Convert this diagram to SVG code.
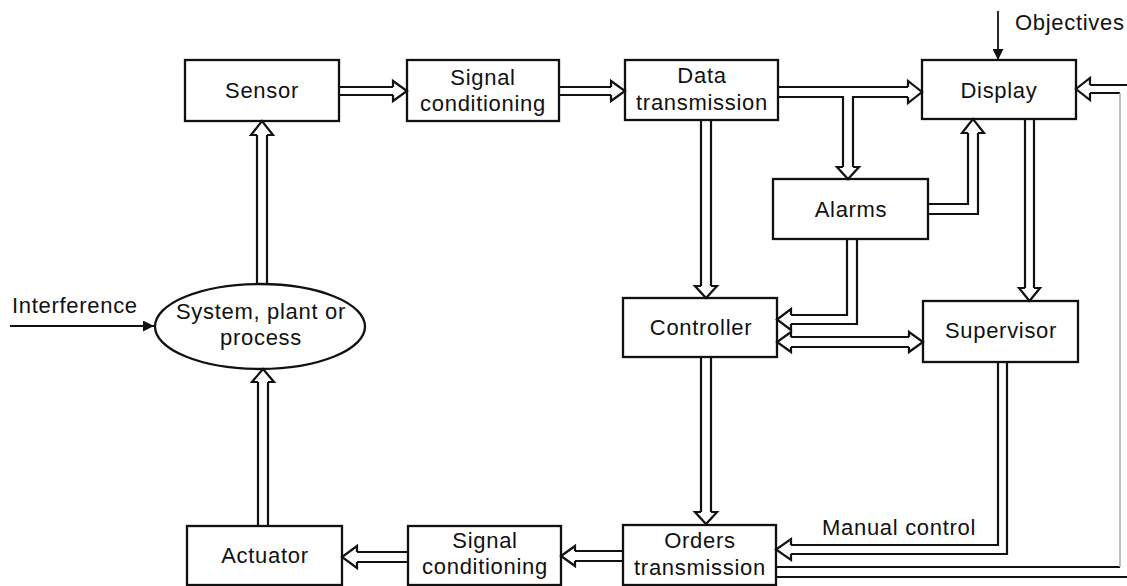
<svg xmlns="http://www.w3.org/2000/svg" width="1127" height="586" viewBox="0 0 1127 586">
<defs>
<style>
.box{fill:#fff;stroke:#111;stroke-width:2.3}
.ln{fill:none;stroke:#111;stroke-width:2.2;stroke-linejoin:miter}
.hd{fill:#fff;stroke:#111;stroke-width:2.2;stroke-linejoin:miter}
.faint{fill:none;stroke:#aaa;stroke-width:1.5}
text{font-family:"Liberation Sans",Arial,sans-serif;font-size:22px;letter-spacing:0.7px;text-anchor:middle;fill:#111}
.lbl{text-anchor:start}
</style>
<marker id="fa" viewBox="0 0 10 10" refX="10" refY="5" markerWidth="13" markerHeight="11" markerUnits="userSpaceOnUse" orient="auto">
<path d="M0,0 L10,5 L0,10 Z" fill="#111"/>
</marker>
</defs>
<rect width="1127" height="586" fill="#fff"/>

<g id="sensor"><rect class="box" x="185" y="60" width="154" height="61"/><text x="262" y="98">Sensor</text></g>
<g id="signal-conditioning-top"><rect class="box" x="407" y="60" width="152" height="61"/><text x="483" y="85">Signal</text><text x="483" y="111">conditioning</text></g>
<g id="data-transmission"><rect class="box" x="625" y="60" width="153" height="60"/><text x="702" y="83">Data</text><text x="702" y="110">transmission</text></g>
<g id="display"><rect class="box" x="922" y="60" width="154" height="59"/><text x="999" y="98">Display</text></g>
<g id="alarms"><rect class="box" x="773" y="179" width="155" height="60"/><text x="851" y="217">Alarms</text></g>
<g id="controller"><rect class="box" x="623" y="298" width="154" height="59"/><text x="701" y="335">Controller</text></g>
<g id="supervisor"><rect class="box" x="923" y="301" width="155" height="61"/><text x="1001" y="338">Supervisor</text></g>
<g id="system"><ellipse class="box" cx="260" cy="326.5" rx="105" ry="42.5"/><text x="261" y="319">System, plant or</text><text x="261" y="345">process</text></g>
<g id="actuator"><rect class="box" x="187" y="526" width="155" height="59"/><text x="265" y="563">Actuator</text></g>
<g id="signal-conditioning-bottom"><rect class="box" x="408" y="526" width="153" height="59"/><text x="485" y="548">Signal</text><text x="485" y="574">conditioning</text></g>
<g id="orders-transmission"><rect class="box" x="623" y="525" width="153" height="60"/><text x="700" y="548">Orders</text><text x="700" y="575">transmission</text></g>

<g id="connectors">
<!-- Sensor -> Signal conditioning -->
<path class="ln" d="M339,87 H393 M339,95 H393"/>
<path class="hd" d="M393,87 V81 L407,91 L393,101 V95"/>
<!-- Signal conditioning -> Data transmission -->
<path class="ln" d="M559,87 H611 M559,95 H611"/>
<path class="hd" d="M611,87 V81 L625,91 L611,101 V95"/>
<!-- Data transmission -> Display, branch -> Alarms -->
<path class="ln" d="M778,87 H908 M778,97 H843 V167 M908,97 H853 V167"/>
<path class="hd" d="M908,87 V81 L922,92 L908,103 V97"/>
<path class="hd" d="M843,167 H837 L848,179 L859,167 H853"/>
<!-- Orders transmission -> Display (feedback round the right edge) -->
<path class="ln" d="M1090,85 H1130 M776,577 H1130"/>
<path class="ln" d="M776,567 H1120 M1090,93 H1120"/>
<path class="faint" d="M1120,93 V567"/>
<path class="hd" d="M1090,85 V78 L1076,89 L1090,100 V93"/>
<!-- Alarms -> Display -->
<path class="ln" d="M928,204 H968 V133 M928,214 H978 V133"/>
<path class="hd" d="M968,133 H962 L973,119 L984,133 H978"/>
<!-- Display -> Supervisor -->
<path class="ln" d="M1025,119 V288 M1034,119 V288"/>
<path class="hd" d="M1025,288 H1019 L1029.5,301 L1040,288 H1034"/>
<!-- Data transmission -> Controller -->
<path class="ln" d="M701,120 V286 M711,120 V286"/>
<path class="hd" d="M701,286 H695 L706,298 L717,286 H711"/>
<!-- Alarms -> Controller -->
<path class="ln" d="M847,239 V315 H791 M857,239 V324 H791"/>
<path class="hd" d="M791,315 V309 L777,319.5 L791,330 V324"/>
<!-- Controller <-> Supervisor -->
<path class="ln" d="M791,337 H909 M791,347 H909"/>
<path class="hd" d="M791,337 V332 L777,342 L791,352 V347"/>
<path class="hd" d="M909,337 V332 L923,342 L909,352 V347"/>
<!-- Controller -> Orders transmission -->
<path class="ln" d="M701,357 V512 M711,357 V512"/>
<path class="hd" d="M701,512 H695 L706,524 L717,512 H711"/>
<!-- Supervisor -> Orders transmission (manual control) -->
<path class="ln" d="M998,362 V545 H791 M1007,362 V554 H791"/>
<path class="hd" d="M791,545 V539 L776,549.5 L791,560 V554"/>
<text class="lbl" x="822" y="535">Manual control</text>
<!-- Orders transmission -> Signal conditioning -->
<path class="ln" d="M623,551 H575 M623,561 H575"/>
<path class="hd" d="M575,551 V546 L561,556 L575,566 V561"/>
<!-- Signal conditioning -> Actuator -->
<path class="ln" d="M408,552 H357 M408,562 H357"/>
<path class="hd" d="M357,552 V546 L342,557 L357,568 V562"/>
<!-- Actuator -> System -->
<path class="ln" d="M258,526 V382 M268,526 V382"/>
<path class="hd" d="M258,382 H252 L263,369 L274,382 H268"/>
<!-- System -> Sensor -->
<path class="ln" d="M257,284 V135 M267,284 V135"/>
<path class="hd" d="M257,135 H251 L262,121 L273,135 H267"/>
<!-- Interference -->
<line x1="10" y1="326" x2="154" y2="326" stroke="#111" stroke-width="1.8" marker-end="url(#fa)"/>
<text class="lbl" x="12" y="313">Interference</text>
<!-- Objectives -->
<line x1="998" y1="11" x2="998" y2="60" stroke="#111" stroke-width="1.8" marker-end="url(#fa)"/>
<text class="lbl" x="1015" y="30">Objectives</text>
</g>
</svg>
